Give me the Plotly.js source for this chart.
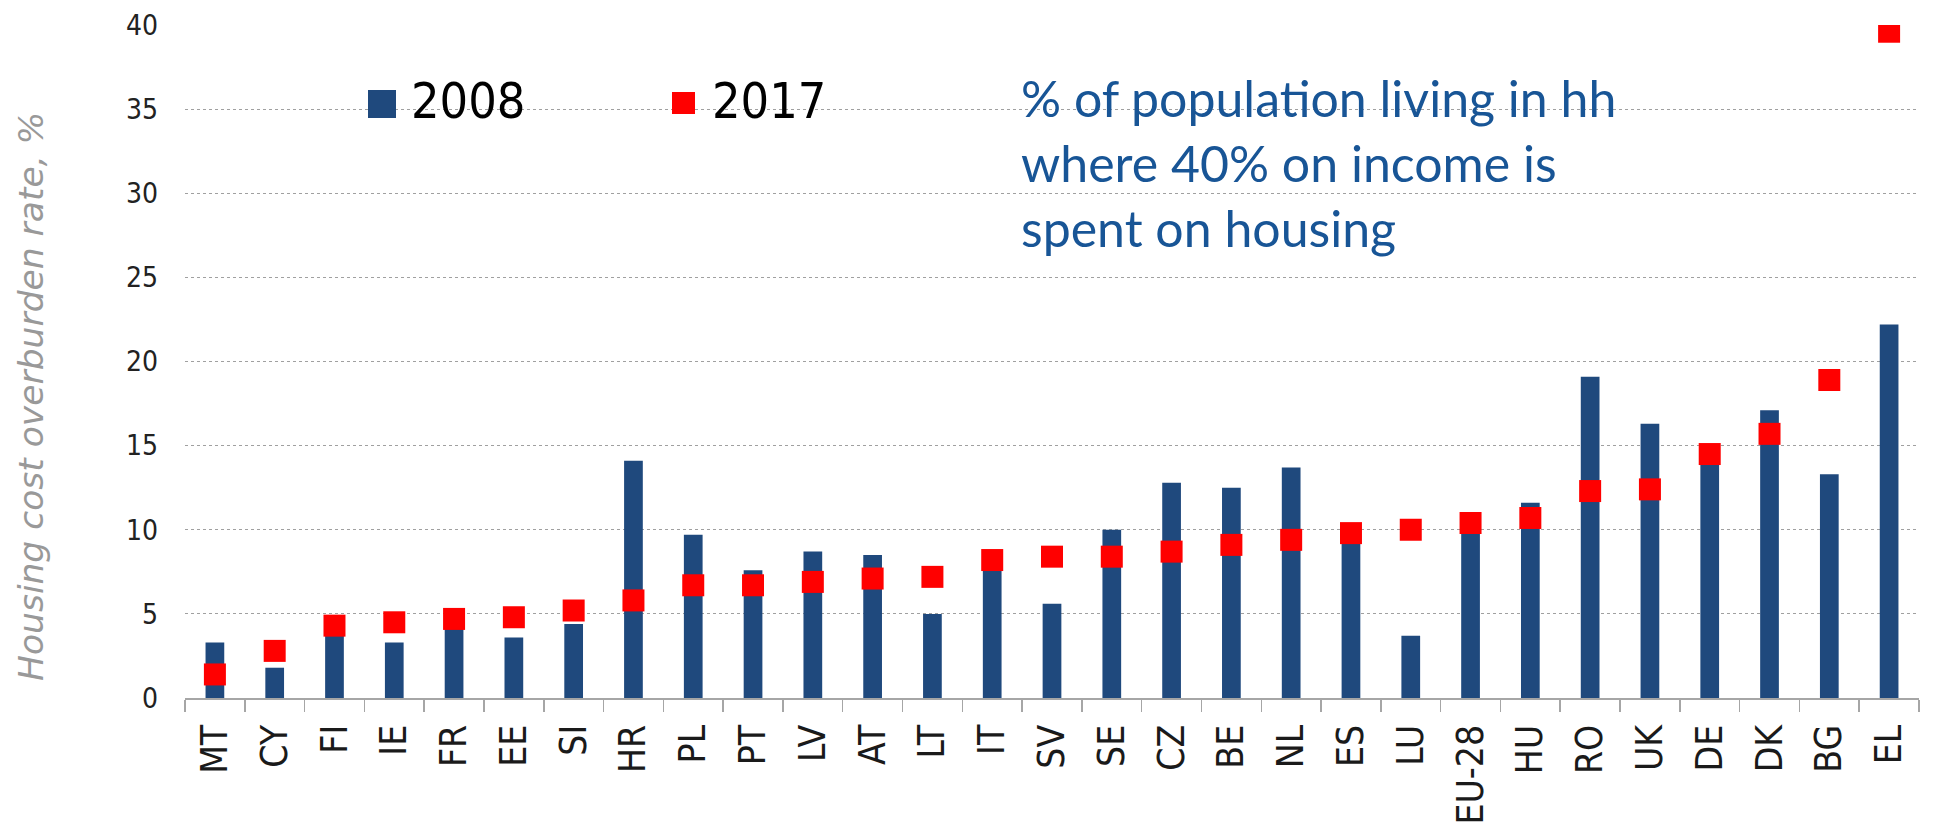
<!DOCTYPE html>
<html>
<head>
<meta charset="utf-8">
<script src="https://cdn.plot.ly/plotly-3.0.1.min.js"></script>
<style>html,body{margin:0;padding:0;background:#fff;}</style>
</head>
<body>
<div id="chart" style="width:1933px;height:836px;"></div>
<script>
// ---- data ----
const countries = ['MT','CY','FI','IE','FR','EE','SI','HR','PL','PT','LV','AT','LT','IT','SV','SE','CZ','BE','NL','ES','LU','EU-28','HU','RO','UK','DE','DK','BG','EL'];
const values2008 = [3.3,1.8,3.9,3.3,4.3,3.6,4.4,14.1,9.7,7.6,8.7,8.5,5.0,7.8,5.6,10.0,12.8,12.5,13.7,9.4,3.7,9.9,11.6,19.1,16.3,14.2,17.1,13.3,22.2];
const values2017 = [1.4,2.8,4.3,4.5,4.7,4.8,5.2,5.8,6.7,6.7,6.9,7.1,7.2,8.2,8.4,8.4,8.7,9.1,9.4,9.8,10.0,10.4,10.7,12.3,12.4,14.5,15.7,18.9,39.6];
const seriesNames = ['2008','2017'];
const yTickVals = [0,5,10,15,20,25,30,35,40];
const annotationText = '% of population living in hh<br>where 40% on income is<br>spent on housing';
const yTitle = 'Housing cost overburden rate, %';

// ---- geometry helpers (pixels -> paper) ----
const W = 1933, H = 836;
const M = {l:185, r:14, t:25, b:138};
const PW = W - M.l - M.r, PH = H - M.t - M.b;
const px = x => (x - M.l) / PW;
const py = y => (H - M.b - y) / PH;

const BLUE = '#1F497D', RED = '#FF0000';

const traces = [
  {type:'bar', name:seriesNames[0], x:countries, y:values2008,
   marker:{color:BLUE}, hoverinfo:'x+y'},
  {type:'scatter', mode:'markers', name:seriesNames[1], x:countries, y:values2017,
   marker:{symbol:'square', size:22, color:RED}, hoverinfo:'x+y'}
];

const layout = {
  width:W, height:H,
  margin:M,
  paper_bgcolor:'#fff', plot_bgcolor:'#fff',
  showlegend:false,
  bargap:0.687,
  font:{family:'DejaVu Sans Condensed, DejaVu Sans, sans-serif', color:'#1a1a1a'},
  xaxis:{
    type:'category', tickangle:-90, range:[-0.5, countries.length - 0.5],
    tickfont:{family:'DejaVu Sans Condensed, DejaVu Sans, sans-serif', size:37, color:'#1a1a1a'},
    showline:true, linecolor:'#A6A6A6', linewidth:2,
    ticks:'outside', tickson:'boundaries', ticklen:12, tickcolor:'#A6A6A6', tickwidth:1.5,
    showgrid:false, zeroline:false, automargin:false, ticklabelstandoff:10
  },
  yaxis:{
    range:[0,40], tickvals:yTickVals, ticktext:yTickVals.map(String),
    tickfont:{family:'DejaVu Sans Condensed, DejaVu Sans, sans-serif', size:28, color:'#222'},
    showgrid:true, gridcolor:'#A0A0A0', gridwidth:1, griddash:'dot',
    zeroline:false, showline:false, ticks:'', ticklabelstandoff:26, automargin:false
  },
  shapes:[
    // white boxes hiding gridlines behind legend and note
    {type:'rect', xref:'paper', yref:'paper', layer:'between', x0:px(227), x1:px(954), y0:py(160), y1:py(60),
     fillcolor:'#fff', line:{width:0}},
    {type:'rect', xref:'paper', yref:'paper', layer:'between', x0:px(1000), x1:px(1636), y0:py(320), y1:py(60),
     fillcolor:'#fff', line:{width:0}},
    // legend swatches
    {type:'rect', xref:'paper', yref:'paper', layer:'above', x0:px(368), x1:px(396), y0:py(118), y1:py(90),
     fillcolor:BLUE, line:{width:0}},
    {type:'rect', xref:'paper', yref:'paper', layer:'above', x0:px(672), x1:px(695), y0:py(114), y1:py(92),
     fillcolor:RED, line:{width:0}}
  ],
  annotations:[
    // y-axis title
    {text:yTitle, xref:'paper', yref:'paper', x:px(31), y:py(397), xanchor:'center', yanchor:'middle',
     textangle:-90, showarrow:false,
     font:{family:'DejaVu Sans, sans-serif', size:34.5, color:'#999999', style:'italic'}},
    // legend labels
    {text:seriesNames[0], xref:'paper', yref:'paper', x:px(409), y:py(101), xanchor:'left', yanchor:'middle',
     showarrow:false, font:{family:'DejaVu Sans Condensed, DejaVu Sans, sans-serif', size:50, color:'#000'}},
    {text:seriesNames[1], xref:'paper', yref:'paper', x:px(710), y:py(101), xanchor:'left', yanchor:'middle',
     showarrow:false, font:{family:'DejaVu Sans Condensed, DejaVu Sans, sans-serif', size:50, color:'#000'}},
    // note
    {text:annotationText, xref:'paper', yref:'paper', x:px(1019), y:py(66), xanchor:'left', yanchor:'top',
     align:'left', showarrow:false, font:{family:'Lato, sans-serif', size:50, color:'#185596'}}
  ]
};

Plotly.newPlot('chart', traces, layout, {displayModeBar:false, staticPlot:true});
</script>
</body>
</html>
